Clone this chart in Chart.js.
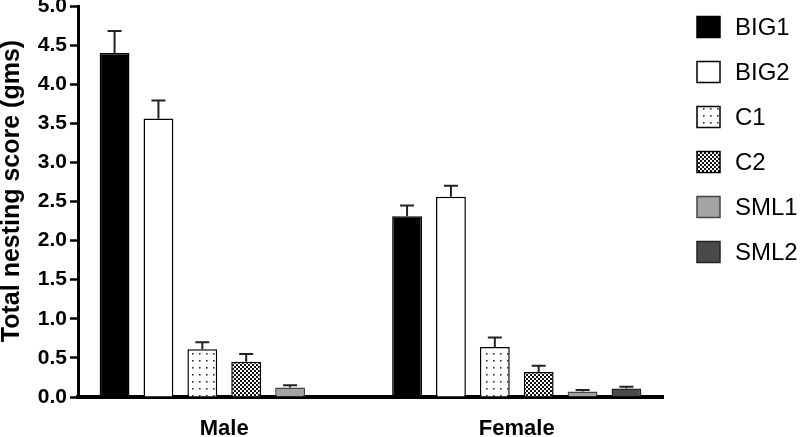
<!DOCTYPE html>
<html>
<head>
<meta charset="utf-8">
<script src="https://cdn.jsdelivr.net/npm/chart.js@4.4.1/dist/chart.umd.min.js"></script>
<style>
    body { margin: 0; background: #fff; }
    #wrap { width: 800px; height: 437px; position: relative; }
</style>
</head>
<body>
<div id="wrap"><canvas id="nestchart"></canvas></div>
<script>
// groups and series
const categories = ['Male', 'Female'];
const seriesNames = ['BIG1', 'BIG2', 'C1', 'C2', 'SML1', 'SML2'];

// mean values (gms), per series: [Male, Female]
const big1 = [4.40, 2.31];
const big2 = [3.56, 2.56];
const c1 = [0.61, 0.64];
const c2 = [0.45, 0.32];
const sml1 = [0.12, 0.07];
const sml2 = [0.01, 0.11];

// error bar (upper) sizes
const big1Err = [0.28, 0.14];
const big2Err = [0.23, 0.14];
const c1Err = [0.09, 0.12];
const c2Err = [0.10, 0.08];
const sml1Err = [0.03, 0.02];
const sml2Err = [0.00, 0.02];

const yTicks = [0, 0.5, 1.0, 1.5, 2.0, 2.5, 3.0, 3.5, 4.0, 4.5, 5.0];
const yTitle = 'Total nesting score (gms)';

Chart.defaults.font.family = '"Liberation Sans", Arial, sans-serif';
Chart.defaults.color = '#000';

// fill patterns for the C1 / C2 bars
function dotPattern() {
    const c = document.createElement('canvas');
    c.width = 7; c.height = 7;
    const x = c.getContext('2d');
    x.fillStyle = '#fff';
    x.fillRect(0, 0, 7, 7);
    x.fillStyle = '#333';
    x.fillRect(3, 3, 1.6, 1.6);
    return x.createPattern(c, 'repeat');
}

function checkPattern() {
    const c = document.createElement('canvas');
    c.width = 4; c.height = 4;
    const x = c.getContext('2d');
    x.fillStyle = '#fff';
    x.fillRect(0, 0, 4, 4);
    x.fillStyle = '#111';
    x.fillRect(0, 0, 2, 2);
    x.fillRect(2, 2, 2, 2);
    return x.createPattern(c, 'repeat');
}

const seriesData = [big1, big2, c1, c2, sml1, sml2];
const seriesErr = [big1Err, big2Err, c1Err, c2Err, sml1Err, sml2Err];
const fills = ['#000', '#fff', dotPattern(), checkPattern(), '#a3a3a3', '#4a4a4a'];
const borders = ['#000', '#000', '#000', '#000', '#444', '#222'];

const datasets = seriesNames.map(function (name, i) {
    return {
        label: name,
        data: seriesData[i],
        errors: seriesErr[i],
        backgroundColor: fills[i],
        borderColor: borders[i],
        borderWidth: 1.5,
        categoryPercentage: 0.9,
        barPercentage: 0.68
    };
});

// upper error bars
const errorBars = {
    id: 'errorBars',
    afterDatasetsDraw(chart) {
        const ctx = chart.ctx;
        const y = chart.scales.y;
        ctx.save();
        ctx.strokeStyle = '#222';
        ctx.lineWidth = 2;
        chart.data.datasets.forEach(function (ds, i) {
            const meta = chart.getDatasetMeta(i);
            meta.data.forEach(function (bar, j) {
                const err = ds.errors[j];
                if (!err) return;
                const top = y.getPixelForValue(ds.data[j] + err);
                ctx.beginPath();
                ctx.moveTo(bar.x, bar.y);
                ctx.lineTo(bar.x, top);
                ctx.moveTo(bar.x - 7, top);
                ctx.lineTo(bar.x + 7, top);
                ctx.stroke();
            });
        });
        ctx.restore();
    }
};

// legend on the right and the y title
const sideText = {
    id: 'sideText',
    afterDraw(chart) {
        const ctx = chart.ctx;
        ctx.save();
        chart.data.datasets.forEach(function (ds, i) {
            const cy = 27 + i * 45;
            ctx.fillStyle = ds.backgroundColor;
            ctx.fillRect(697, cy - 10.5, 23, 21);
            ctx.strokeStyle = ds.borderColor;
            ctx.lineWidth = 1.5;
            ctx.strokeRect(697, cy - 10.5, 23, 21);
            ctx.fillStyle = '#000';
            ctx.font = '24px "Liberation Sans", Arial, sans-serif';
            ctx.textBaseline = 'middle';
            ctx.textAlign = 'left';
            ctx.fillText(ds.label, 735, cy + 1);
        });
        ctx.translate(19, 191);
        ctx.rotate(-Math.PI / 2);
        ctx.font = 'bold 25px "Liberation Sans", Arial, sans-serif';
        ctx.textAlign = 'center';
        ctx.textBaseline = 'alphabetic';
        ctx.fillText(yTitle, 0, 0);
        ctx.restore();
    }
};

new Chart(document.getElementById('nestchart'), {
    type: 'bar',
    data: {
        labels: categories,
        datasets: datasets
    },
    options: {
        responsive: true,
        maintainAspectRatio: false,
        animation: false,
        devicePixelRatio: 1,
        layout: {
            padding: { left: 0, right: 137, top: 6, bottom: 0 }
        },
        plugins: {
            legend: { display: false },
            tooltip: { enabled: false }
        },
        scales: {
            x: {
                grid: { display: false, drawTicks: false },
                border: { display: true, color: '#000', width: 4 },
                ticks: {
                    font: { size: 22, weight: 'bold' },
                    padding: 19
                },
                afterFit(scale) {
                    scale.height = 40;
                    scale.paddingLeft = 0;
                    scale.paddingRight = 0;
                }
            },
            y: {
                min: 0,
                max: 5,
                afterBuildTicks(scale) {
                    scale.ticks = yTicks.map(function (v) { return { value: v }; });
                },
                grid: {
                    display: true,
                    drawOnChartArea: false,
                    drawTicks: true,
                    tickLength: 8,
                    tickWidth: 2.5,
                    tickColor: '#000'
                },
                border: { display: true, color: '#000', width: 3 },
                ticks: {
                    font: { size: 21, weight: 'bold' },
                    padding: 3,
                    callback: function (v) { return Number(v).toFixed(1); }
                },
                afterFit(scale) {
                    scale.width = 78;
                    scale.paddingTop = 0;
                    scale.paddingBottom = 0;
                }
            }
        }
    },
    plugins: [errorBars, sideText]
});
</script>
</body>
</html>
